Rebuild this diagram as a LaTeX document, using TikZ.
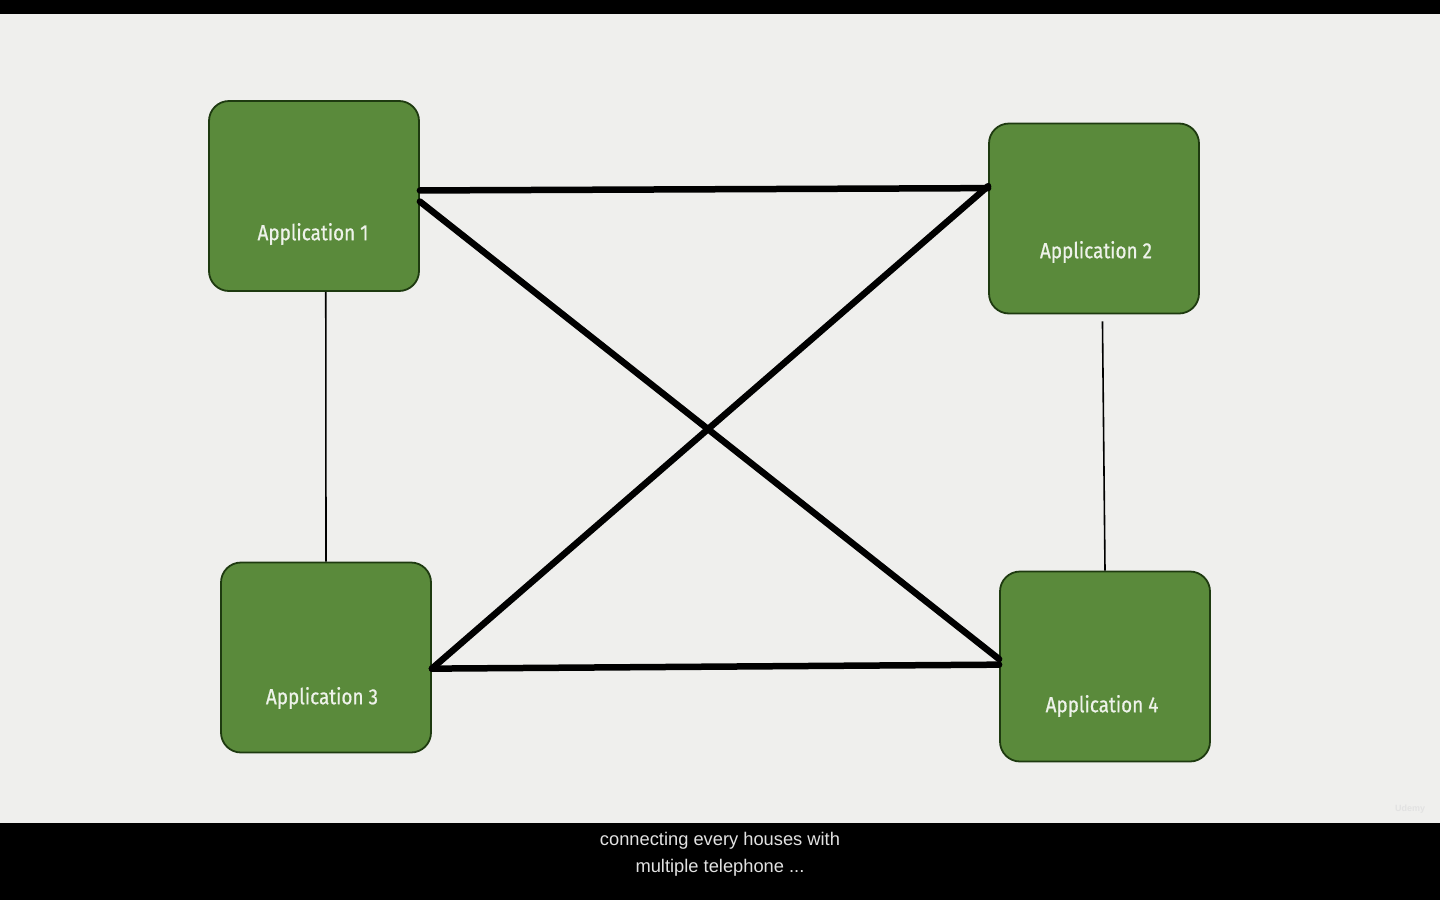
\documentclass[tikz,border=0pt]{standalone}
\usepackage{fontspec}
\setmainfont{Fira Sans}[FakeStretch=0.86]
\newfontfamily\appfont{Fira Sans}[FakeStretch=0.86,FakeBold=0.7]
\newfontfamily\subfont{Liberation Sans}
\definecolor{paper}{HTML}{EFEFED}
\definecolor{appgreen}{HTML}{5A8A3B}
\definecolor{appborder}{HTML}{1E3A10}
\definecolor{apptext}{HTML}{EEF2EA}
\definecolor{subgray}{HTML}{E2E2E2}
\begin{document}
\begin{tikzpicture}[x=1pt,y=-1pt,
    appbox/.style={draw=appborder,line width=1.8pt,fill=appgreen,rounded corners=20pt,minimum width=210pt,minimum height=190pt,inner sep=0pt},
    applabel/.style={text=apptext,font=\appfont\fontsize{22}{24}\selectfont,inner sep=0pt},
    link/.style={line width=6.5pt,line cap=round},
    thinlink/.style={line width=1.6pt},
    subtitle/.style={text=subgray,font=\subfont\fontsize{18.3}{20}\selectfont,inner sep=0pt}]
    % frame
    \useasboundingbox (0,0) rectangle (1440,900);
    \fill[paper] (0,0) rectangle (1440,900);
    \fill[black] (0,0) rectangle (1440,14);
    \fill[black] (0,823) rectangle (1440,900);
    % boxes
    \node[appbox] (app1) at (314,196) {};
    \node[appbox] (app2) at (1094,218.5) {};
    \node[appbox] (app3) at (326,657.5) {};
    \node[appbox] (app4) at (1105,666.5) {};
    \node[applabel] (lab1) at (313,234) {Application 1};
    \node[applabel] (lab2) at (1096,252) {Application 2};
    \node[applabel] (lab3) at (322,698) {Application 3};
    \node[applabel] (lab4) at (1102,706) {Application 4};
    % connections
    \draw[link] (app1.3)--(app2.164);
    \draw[link] (app1.-3)--(app4.176);
    \draw[link] (app3.-6)--(app2.163);
    \draw[link] (app3.-6)--(app4.179);
    \draw[thinlink] (app1.-83)--(app3.north);
    \draw[thinlink,shorten <=7pt] (app2.-85)--(app4.north);
    % subtitles
    \node[subtitle] (sub1) at (720,841) {connecting every houses with};
    \node[subtitle] (sub2) at (720,868) {multiple telephone ...};
    \node[text=subgray,font=\subfont\fontsize{9}{10}\selectfont\bfseries] (mark) at (1410,809) {Udemy};
\end{tikzpicture}
\end{document}
